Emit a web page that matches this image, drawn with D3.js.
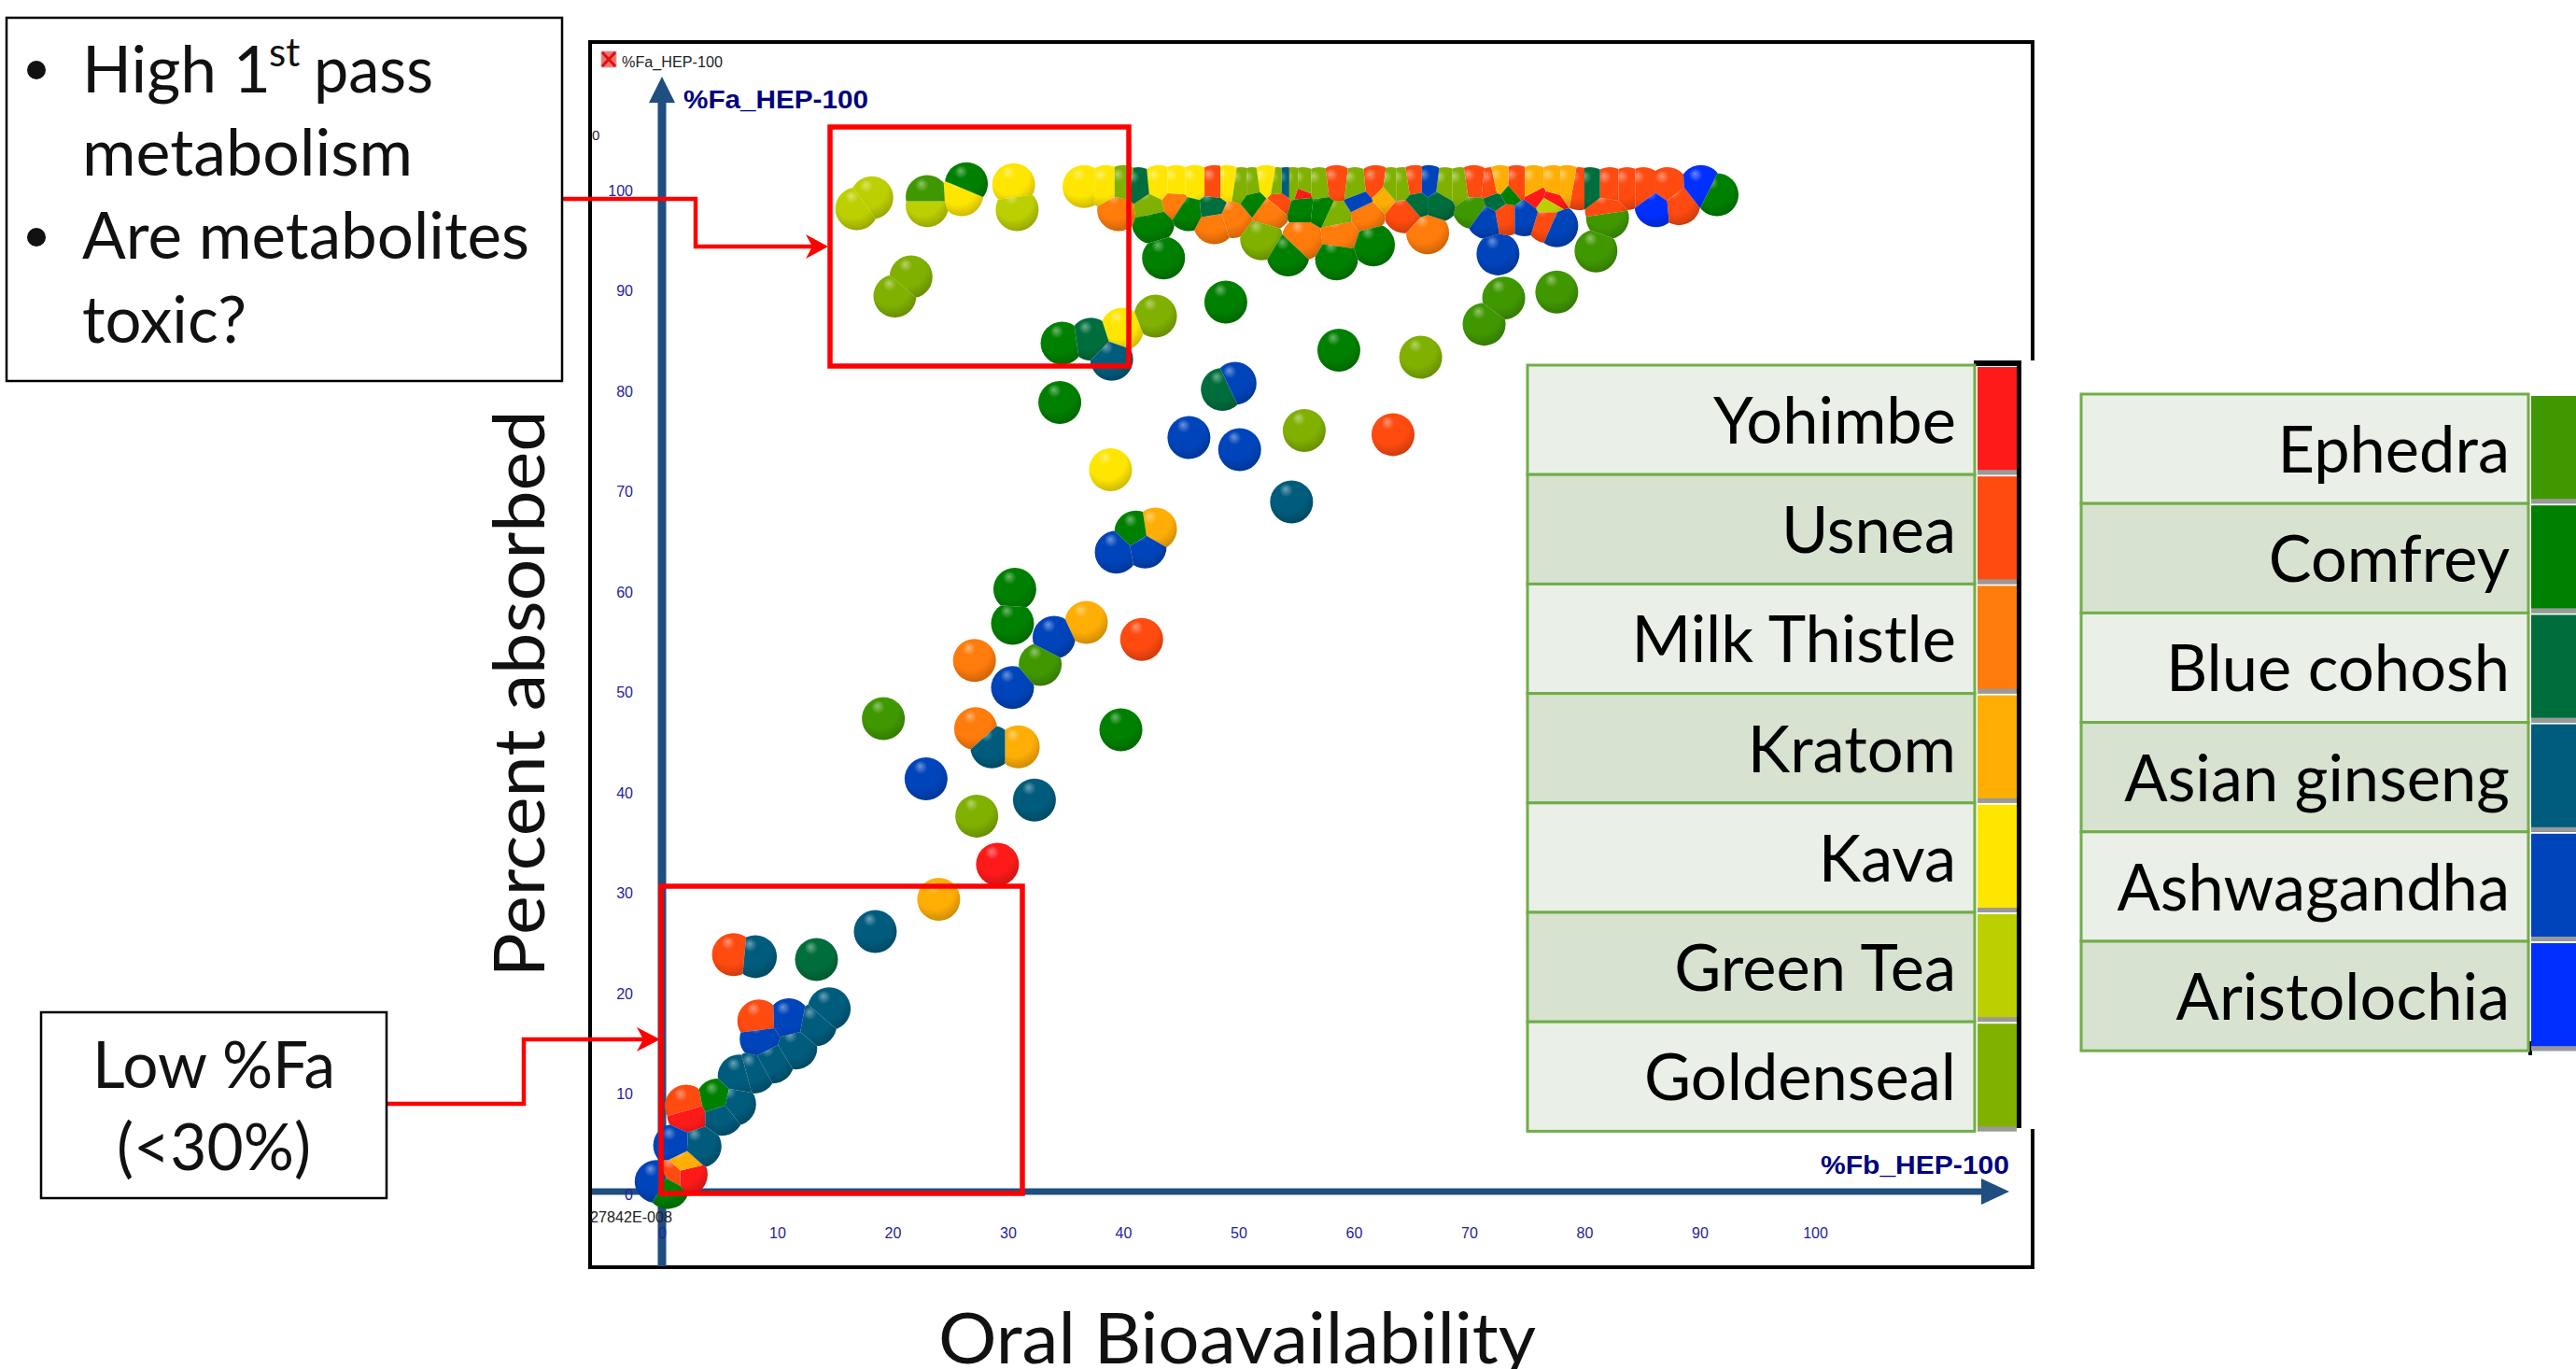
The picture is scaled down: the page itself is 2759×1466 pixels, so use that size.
<!DOCTYPE html>
<html><head><meta charset="utf-8">
<script src="https://cdnjs.cloudflare.com/ajax/libs/d3/7.8.5/d3.min.js"></script>
<style>html,body{margin:0;padding:0;background:#fff;overflow:hidden}svg{display:block}</style>
</head><body><svg id="c" width="2759" height="1466"></svg>
<script>
// ---------- data (x = %Fb, y = %Fa) ----------
const herbsLeft  = ["Yohimbe","Usnea","Milk Thistle","Kratom","Kava","Green Tea","Goldenseal"];
const herbsRight = ["Ephedra","Comfrey","Blue cohosh","Asian ginseng","Ashwagandha","Aristolochia"];
const herbColors = ["#ff1a1a","#ff4a10","#ff7b0b","#ffae05","#ffe600","#bccf00","#80b000","#409800","#008000","#006e3c","#005c7c","#0044bb","#0030ff"];
const tickValues = [0,10,20,30,40,50,60,70,80,90,100];

const yohimbe = [[29.1,32.7],[2.3,7.8],[2.1,1.8],[55.5,99.7],[77,99],[76,99.3]];
const usnea = [[6.2,23.7],[8.4,17.1],[2.1,8.6],[1.1,1.8],[41.6,55.1],[63.4,75.5],[47.9,100.2],[58.5,100.2],[61.9,100.2],[65.3,100.2],[70.4,100.2],[71.9,100],[74.1,100.2],[79.5,100],[82.2,100],[83.7,100],[85.1,100],[87.2,100],[81.9,97.9],[88.2,98.5],[64.4,97.7],[73.1,97.4],[76.8,96.7],[53.5,99]];
const milkThistle = [[27.1,53],[27.2,46.2],[39.6,97.9],[44.5,98.8],[47.9,96.6],[49.5,97.2],[52.7,97.9],[55.6,95],[58.8,95.5],[61,97.6],[66.4,95.6]];
const kratom = [[24,29.2],[30.9,44.4],[36.8,56.8],[42.8,66.1],[1.9,2.8],[72.7,100.2],[75.6,100.2],[77.3,100.2],[78.5,100.2],[62.6,99.4]];
const kava = [[26,99.4],[30.5,100.4],[36.6,100.2],[38.5,100.2],[43.1,100.2],[44.6,100.2],[46.2,100.2],[49,100.2],[52.4,100.2],[38.9,72],[39.9,86]];
const greenTea = [[16.9,98],[18.2,99.1],[23,98.3],[30.8,97.9],[76.8,98.6]];
const goldenseal = [[21.6,91.2],[20.2,89.3],[42.8,87.3],[65.8,83.2],[55.7,75.9],[27.3,37.5],[40,100.2],[50.2,100],[51.2,100],[53.4,100],[54.7,100],[55.6,100],[57,100],[60.1,100],[63.2,100],[64.2,100],[67.9,100],[69.2,100],[42.3,98.3],[52,95],[58.5,97.4]];
const ephedra = [[23,99.2],[32.8,52.6],[19.2,47.2],[73,89.1],[77.6,89.7],[71.3,86.5],[82,97.1],[81,93.8],[70.4,98.1]];
const comfrey = [[26.4,100.5],[34.5,78.7],[34.7,84.6],[42.6,96.6],[43.5,93.1],[45.7,97.9],[48.9,88.7],[54.3,93.4],[55.6,98.3],[57.2,98.1],[58.5,93],[61.7,94.4],[58.7,83.9],[91.5,99.4],[30.6,60.1],[30.4,56.7],[39.8,46.1],[41.1,65.8],[4.8,9.2],[0.5,0.5],[51.4,99],[73.4,99.5]];
const blueCohosh = [[37.2,85],[41.3,100],[47.7,98.1],[65.5,98.8],[67.3,98.8],[72.3,98.8],[80.5,100],[13.4,23.2],[48.6,80]];
const asianGinseng = [[39,83],[54.6,68.8],[28.6,44.4],[32.3,39.1],[18.5,26],[8.1,23.5],[14.5,18.3],[13.3,16.7],[11.6,14.4],[9.6,13],[8,12],[6.7,11.6],[6.3,8.8],[5.2,7.8],[3.3,4.6],[54.1,100]];
const ashwagandha = [[45.7,75.2],[50.1,74],[49.7,80.6],[39.4,63.8],[41.9,64.3],[34,55.3],[30.4,50.3],[22.9,41.2],[66.5,100.2],[60.5,98.8],[71.6,97.1],[72.5,93.5],[74.8,97.4],[77.6,96.3],[11,17.2],[8.6,15.3],[1.1,4.7],[-0.5,1.1]];
const aristolochia = [[90.1,100.2],[86.2,98.3]];
const seriesValues = [yohimbe,usnea,milkThistle,kratom,kava,greenTea,goldenseal,ephedra,comfrey,blueCohosh,asianGinseng,ashwagandha,aristolochia];

// ---------- drawing ----------
const svg = d3.select("#c");
const defs = svg.append("defs");
const x = d3.scaleLinear().domain([0,100]).range([709,1944]);
const y = d3.scaleLinear().domain([0,100]).range([1277,202]);
const AXIS = "#1f4e80", R = 23;
const CAL = "Lato, Carlito, sans-serif";

// frame
svg.append("rect").attr("x",632).attr("y",45).attr("width",1545).attr("height",1312)
  .attr("fill","#fff").attr("stroke","#000").attr("stroke-width",4);
svg.append("rect").attr("x",2170).attr("y",386).attr("width",14).attr("height",823).attr("fill","#fff");

// small header
svg.append("rect").attr("x",644).attr("y",55).attr("width",16).attr("height",17).attr("fill","#f47070").attr("stroke","#bbb");
svg.append("path").attr("d","M645,56L659,71M659,56L645,71").attr("stroke","#e01010").attr("stroke-width",3);
svg.append("text").attr("x",666).attr("y",72).attr("font-family","Liberation Sans").attr("font-size",16).attr("fill","#222").attr("textLength",108).attr("lengthAdjust","spacingAndGlyphs").text("%Fa_HEP-100");
svg.append("text").attr("x",634).attr("y",150).attr("font-family","Liberation Sans").attr("font-size",15).attr("fill","#222").text("0");

// axis lines
svg.append("line").attr("x1",709).attr("x2",709).attr("y1",1356).attr("y2",105).attr("stroke",AXIS).attr("stroke-width",9);
svg.append("path").attr("d","M709,82L723,110L695,110Z").attr("fill",AXIS);
svg.append("line").attr("x1",634).attr("x2",2125).attr("y1",1276).attr("y2",1276).attr("stroke",AXIS).attr("stroke-width",7);
svg.append("path").attr("d","M2152,1276L2122,1262L2122,1290Z").attr("fill",AXIS);
svg.append("text").attr("x",732).attr("y",116).attr("font-family","Liberation Sans").attr("font-size",28).attr("font-weight",700).attr("fill","#000080").attr("textLength",198).attr("lengthAdjust","spacingAndGlyphs").text("%Fa_HEP-100");
svg.append("text").attr("x",1950).attr("y",1257).attr("font-family","Liberation Sans").attr("font-size",28).attr("font-weight",700).attr("fill","#000080").attr("textLength",202).attr("lengthAdjust","spacingAndGlyphs").text("%Fb_HEP-100");

// ticks through d3 axes
const gx = svg.append("g").attr("transform","translate(0,1315)")
  .call(d3.axisBottom(x).tickValues(tickValues).tickSize(0).tickPadding(0).tickFormat(d3.format("d")));
const gy = svg.append("g").attr("transform","translate(678,2)")
  .call(d3.axisLeft(y).tickValues(tickValues).tickSize(0).tickPadding(0).tickFormat(d3.format("d")));
[gx,gy].forEach(g=>{
  g.select(".domain").remove();
  g.selectAll("text").attr("font-family","Liberation Sans").attr("font-size",16).attr("fill","#24249a");
});
svg.append("text").attr("x",632).attr("y",1309).attr("font-family","Liberation Sans").attr("font-size",16).attr("fill","#222").attr("textLength",88).attr("lengthAdjust","spacingAndGlyphs").text("27842E-008");

// sphere gradients
herbColors.forEach((c,i)=>{
  const base = d3.rgb(c), light = d3.interpolateRgb(c,"#fff")(0.42), dark = base.darker(0.75);
  const g = defs.append("radialGradient").attr("id","ball"+i).attr("cx",0.44).attr("cy",0.34).attr("r",0.72).attr("fx",0.36).attr("fy",0.2);
  g.append("stop").attr("offset",0).attr("stop-color",light);
  g.append("stop").attr("offset",0.22).attr("stop-color",c);
  g.append("stop").attr("offset",0.62).attr("stop-color",c);
  g.append("stop").attr("offset",1).attr("stop-color",dark);
});

// balls, cut against each other along straight lines where they interpenetrate
const points = seriesValues.flatMap((s,i)=>s.map(p=>({herb:i,px:x(p[0]),py:y(p[1])})));
const voronoi = d3.Delaunay.from(points,d=>d.px,d=>d.py).voronoi([600,0,2300,1466]);
const plot = svg.append("g");
points.forEach((d,i)=>{
  const cell = voronoi.cellPolygon(i);
  if(cell) defs.append("clipPath").attr("id","cell"+i).append("polygon").attr("points",cell.map(p=>p.join(",")).join(" "));
  plot.append("circle").attr("cx",d.px).attr("cy",d.py).attr("r",R)
    .attr("fill","url(#ball"+d.herb+")").attr("clip-path",cell?"url(#cell"+i+")":null);
});

// legends
const H = 117.2;
function legend(names,colorOffset,x0,y0,w,sx,sw){
  names.forEach((n,i)=>{
    const yy = y0+i*H;
    svg.append("rect").attr("x",x0).attr("y",yy).attr("width",w).attr("height",H)
      .attr("fill",i%2? "#d7e3d0":"#eaf0e8").attr("stroke","#70ad47").attr("stroke-width",3);
    svg.append("rect").attr("x",sx).attr("y",yy+2).attr("width",sw).attr("height",H-2).attr("fill",herbColors[i+colorOffset]);
    svg.append("rect").attr("x",sx).attr("y",yy+H-5).attr("width",sw).attr("height",5).attr("fill","#999");
    svg.append("text").attr("transform",`translate(${x0+w-20},${yy+84}) scale(0.98,1)`)
      .attr("text-anchor","end").attr("font-family",CAL).attr("font-size",70).attr("fill","#000").text(n);
  });
}
svg.append("rect").attr("x",2114).attr("y",386).attr("width",51).attr("height",6).attr("fill","#000");
svg.append("rect").attr("x",2160).attr("y",386).attr("width",5).attr("height",822).attr("fill","#000");
svg.append("rect").attr("x",2708).attr("y",1115).attr("width",4).attr("height",15).attr("fill","#000");
legend(herbsLeft,0,1636,391,479,2118,42);
legend(herbsRight,7,2229,422,479,2711,48);

// annotations
const RED="#ff0000";
svg.append("rect").attr("x",889).attr("y",136).attr("width",320).attr("height",256).attr("fill","none").attr("stroke",RED).attr("stroke-width",5.5);
svg.append("rect").attr("x",708).attr("y",949).attr("width",387).attr("height",329).attr("fill","none").attr("stroke",RED).attr("stroke-width",5.5);
svg.append("path").attr("d","M602,213H745V264H870").attr("fill","none").attr("stroke",RED).attr("stroke-width",4.5);
svg.append("path").attr("d","M887,264L863,251L870,264L863,277Z").attr("fill",RED);
svg.append("path").attr("d","M414,1182H561V1113H690").attr("fill","none").attr("stroke",RED).attr("stroke-width",4.5);
svg.append("path").attr("d","M707,1113L682,1100L689,1113L682,1126Z").attr("fill",RED);

// callouts
svg.append("rect").attr("x",7).attr("y",19).attr("width",595).attr("height",389).attr("fill","#fff").attr("stroke","#000").attr("stroke-width",2.5);
svg.append("rect").attr("x",44).attr("y",1084).attr("width",370).attr("height",199).attr("fill","#fff").attr("stroke","#000").attr("stroke-width",2.5);
function t(s,xp,yp,len,anchor){
  return svg.append("text").attr("x",xp).attr("y",yp).attr("font-family",CAL).attr("font-size",70).attr("fill","#111")
    .attr("text-anchor",anchor||"start").attr("textLength",len).attr("lengthAdjust","spacingAndGlyphs").text(s);
}
t("High 1",88,99,202);
svg.append("text").attr("x",288).attr("y",71).attr("font-family",CAL).attr("font-size",42).attr("fill","#111").text("st");
t("pass",336,99,128);
t("metabolism",88,188,354);
t("Are metabolites",88,277,479);
t("toxic?",88,367,176);
[75,254].forEach(yy=>svg.append("circle").attr("cx",39).attr("cy",yy).attr("r",10).attr("fill","#111"));
t("Low %Fa",229,1165,260,"middle");
t("(<30%)",229,1253,208,"middle");

// axis titles
svg.append("text").attr("transform","translate(583,743) rotate(-90)").attr("text-anchor","middle")
  .attr("font-family",CAL).attr("font-size",76).attr("fill","#111").attr("textLength",607).attr("lengthAdjust","spacingAndGlyphs").text("Percent absorbed");
svg.append("text").attr("x",1325).attr("y",1460).attr("text-anchor","middle")
  .attr("font-family",CAL).attr("font-size",76).attr("fill","#111").attr("textLength",640).attr("lengthAdjust","spacingAndGlyphs").text("Oral Bioavailability");
</script></body></html>
